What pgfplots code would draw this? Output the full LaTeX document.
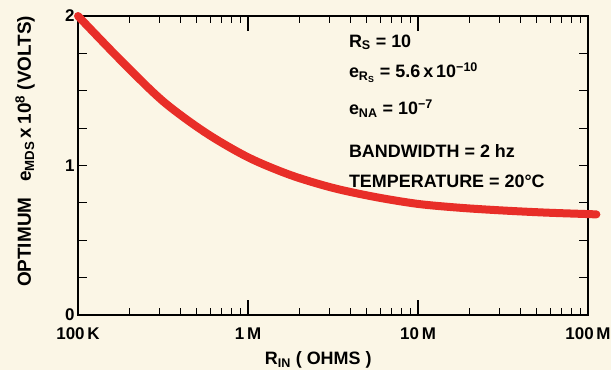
\documentclass[border=0pt]{standalone}
\usepackage{pgfplots}
\pgfplotsset{compat=1.18}
\usepackage{fontspec}
\setmainfont{Liberation Sans}
\definecolor{bgc}{RGB}{251,246,230}
\definecolor{curve}{RGB}{232,46,40}
\begin{document}
\begin{tikzpicture}
\fill[bgc] (-78bp,-55bp) rectangle (533bp,315bp);
\begin{axis}[
  at={(0,0)}, anchor=south west,
  scale only axis, width=510bp, height=299bp,
  xmode=log, xmin=1e5, xmax=1e8, ymin=0, ymax=2,
  clip=false,
  axis line style={line width=1.6bp, black},
  xtick={1e5,1e6,1e7,1e8},
  xticklabels={100\,K, 1\,M, 10\,M, {\makebox[0pt]{100\,M}}},
  ytick={0,1,2},
  yticklabels={0,1,2},
  tick style={line width=1.2bp, black},
  minor tick length=7bp,
  major tick length=9bp,
  ticklabel style={font=\fontsize{17}{19}\selectfont\bfseries},
  xticklabel style={yshift=-9bp},
  xlabel={R\textsubscript{IN} ( OHMS )},
  ylabel={OPTIMUM\ \ \ e\textsubscript{MDS}\,x\,10\textsuperscript{8}\ (VOLTS)},
  label style={font=\fontsize{18}{20}\selectfont\bfseries},
  xlabel style={at={(axis description cs:0.471,-0.150)}, anchor=center},
  ylabel style={at={(axis description cs:-0.104,0.547)}, anchor=center, font=\fontsize{19}{21}\selectfont\bfseries},
]
\addplot[curve, line width=8bp, line cap=round, smooth] coordinates {
(1e5,2.00) (1.778e5,1.705) (3.162e5,1.43) (5.623e5,1.22)
(1e6,1.055) (1.778e6,0.936) (3.162e6,0.850) (5.623e6,0.789)
(1e7,0.743) (1.778e7,0.717) (3.162e7,0.699) (5.623e7,0.685)
(1e8,0.675) (1.12e8,0.673)
};
% tick marks of the axis frame (both ends given in axis coordinates)
\pgfplotsinvokeforeach{2e5,3e5,4e5,5e5,6e5,7e5,8e5,9e5,2e6,3e6,4e6,5e6,6e6,7e6,8e6,9e6,2e7,3e7,4e7,5e7,6e7,7e7,8e7,9e7}{
  \draw[line width=1.2bp, black] (axis cs:#1,0) -- (axis cs:#1,0.047);
  \draw[line width=1.2bp, black] (axis cs:#1,2) -- (axis cs:#1,1.953);
}
\pgfplotsinvokeforeach{1e6,1e7}{
  \draw[line width=1.2bp, black] (axis cs:#1,0) -- (axis cs:#1,0.10);
  \draw[line width=1.2bp, black] (axis cs:#1,2) -- (axis cs:#1,1.90);
}
\pgfplotsinvokeforeach{0.25,0.5,0.75,1,1.25,1.5,1.75}{
  \draw[line width=1.2bp, black] (axis cs:1e5,#1) -- (axis cs:1.13e5,#1);
  \draw[line width=1.2bp, black] (axis cs:1e8,#1) -- (axis cs:8.85e7,#1);
}
\begin{scope}[every node/.style={anchor=base west, inner sep=0pt, font=\fontsize{18}{20}\selectfont\bfseries}]
\node at (rel axis cs:0.531,0.896) {R\textsubscript{S} = 10};
\node at (rel axis cs:0.531,0.793) {e\textsubscript{R\textsubscript{S}} = 5.6\,x\,10\textsuperscript{−10}};
\node at (rel axis cs:0.531,0.669) {e\textsubscript{NA} = 10\textsuperscript{−7}};
\node at (rel axis cs:0.531,0.528) {BANDWIDTH = 2 hz};
\node at (rel axis cs:0.531,0.425) {TEMPERATURE = 20°C};
\end{scope}
\end{axis}
\end{tikzpicture}
\end{document}
